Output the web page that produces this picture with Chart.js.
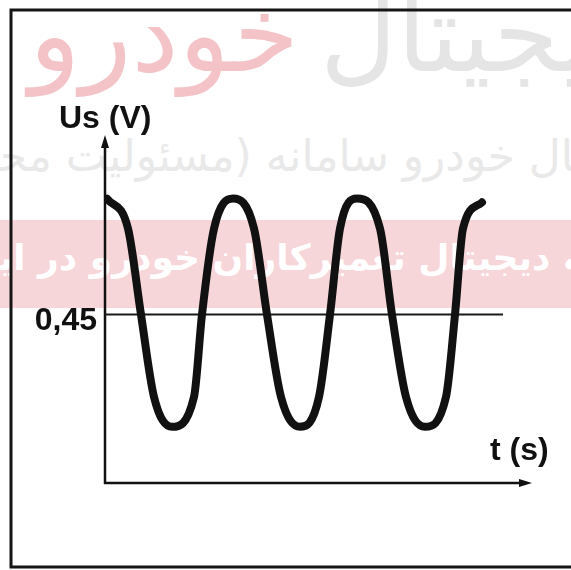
<!DOCTYPE html>
<html>
<head>
<meta charset="utf-8">
<script src="https://cdn.jsdelivr.net/npm/chart.js@4.4.1/dist/chart.umd.min.js"></script>
<style>
  html, body { margin: 0; padding: 0; background: #fff; }
  #wrap { position: relative; width: 571px; height: 570px; overflow: hidden; background: #fff; }
  .wm { position: absolute; white-space: nowrap; line-height: 1; font-family: "DejaVu Sans", sans-serif; direction: rtl; }
  #band { position: absolute; left: 0; top: 220px; width: 571px; height: 88px; background: #f7d6d9; }
  canvas { position: absolute; left: 0; top: 0; }
</style>
</head>
<body>
<div id="wrap">
  <!-- faint watermark behind the chart -->
  <div class="wm" style="top:-18px; right:272px; font-size:106px; color:#f3c3c7;">خودرو</div>
  <div class="wm" style="top:-18px; left:320px; font-size:106px; color:#e5e5e5;">دیجیتال</div>
  <div class="wm" style="top:134px; right:-90px; font-size:44px; color:#e9e9e9;">دیجیتال خودرو سامانه (مسئولیت محدود)</div>
  <div id="band"></div>
  <div class="wm" style="top:240px; right:-112px; font-size:36px; font-weight:bold; color:#fff;">سامانه دیجیتال تعمیرکاران خودرو در ایران</div>
  <canvas id="sensorChart" width="571" height="570"></canvas>
</div>
<script>
// signal (time in arbitrary units, voltage in V)
const timeS = [0.02, 0.23, 0.36, 0.49, 0.67,
  0.89, 0.97, 1.09, 1.28,
  1.49, 1.62, 1.76, 1.95,
  2.14, 2.25, 2.35, 2.52,
  2.75, 2.87, 3.01, 3.20,
  3.41, 3.50, 3.58, 3.77];
const usVolts = [0.76, 0.68, 0.45, 0.23, 0.15,
  0.23, 0.45, 0.68, 0.76,
  0.68, 0.45, 0.23, 0.15,
  0.23, 0.45, 0.68, 0.76,
  0.68, 0.45, 0.23, 0.15,
  0.23, 0.45, 0.68, 0.75];

// 0,45 V reference line
const refTime = [0, 3.98];
const refVolts = [0.45, 0.45];

const yTicks = [0.45];
const yTickLabels = ['0,45'];
const yTitle = 'Us (V)';
const xTitle = 't (s)';
const tMax = 4.27;
const usMax = 0.93;

const toPoints = (xs, ys) => xs.map((x, i) => ({ x: x, y: ys[i] }));

const sketchAxes = {
  id: 'sketchAxes',
  beforeDatasetsDraw(chart) {
    const ctx = chart.ctx;
    const xs = chart.scales.x, ys = chart.scales.y;
    const x0 = xs.getPixelForValue(0), y0 = ys.getPixelForValue(0);
    const xEnd = xs.getPixelForValue(tMax), yEnd = ys.getPixelForValue(usMax);

    ctx.save();
    // page frame
    ctx.strokeStyle = '#151515';
    ctx.lineWidth = 3;
    ctx.beginPath();
    ctx.moveTo(chart.width + 2, 10);
    ctx.lineTo(11, 10);
    ctx.lineTo(11, 567);
    ctx.lineTo(chart.width + 2, 567);
    ctx.stroke();

    // axes
    ctx.strokeStyle = '#111';
    ctx.lineWidth = 2.5;
    ctx.beginPath();
    ctx.moveTo(x0, y0 + 1);
    ctx.lineTo(x0, yEnd + 10);
    ctx.moveTo(x0 - 1, y0);
    ctx.lineTo(xEnd - 10, y0);
    ctx.stroke();

    // arrow heads
    ctx.fillStyle = '#111';
    ctx.beginPath();
    ctx.moveTo(x0, yEnd);
    ctx.lineTo(x0 - 4, yEnd + 13);
    ctx.lineTo(x0 + 4, yEnd + 13);
    ctx.closePath();
    ctx.moveTo(xEnd, y0);
    ctx.lineTo(xEnd - 13, y0 - 4);
    ctx.lineTo(xEnd - 13, y0 + 4);
    ctx.closePath();
    ctx.fill();

    // labels
    ctx.font = 'bold 32px "Liberation Sans", Arial, sans-serif';
    ctx.fillStyle = '#111';
    ctx.textBaseline = 'alphabetic';
    ctx.textAlign = 'right';
    yTicks.forEach((v, i) => {
      ctx.fillText(yTickLabels[i], x0 - 8, ys.getPixelForValue(v) + 15);
    });
    ctx.textAlign = 'left';
    ctx.fillText(yTitle, x0 - 46, yEnd - 7);
    ctx.fillText(xTitle, xEnd - 42, y0 - 23);
    ctx.restore();
  }
};

new Chart(document.getElementById('sensorChart'), {
  type: 'line',
  data: {
    datasets: [
      {
        label: 'Us',
        data: toPoints(timeS, usVolts),
        borderColor: '#111',
        borderWidth: 8,
        pointRadius: 0,
        cubicInterpolationMode: 'monotone',
        borderCapStyle: 'round',
        fill: false
      },
      {
        label: '0,45',
        data: toPoints(refTime, refVolts),
        borderColor: '#1a1a1a',
        borderWidth: 2,
        pointRadius: 0,
        fill: false
      }
    ]
  },
  options: {
    responsive: false,
    animation: false,
    layout: { padding: { left: 105, right: 39, top: 135, bottom: 87 } },
    plugins: { legend: { display: false }, tooltip: { enabled: false } },
    scales: {
      x: { type: 'linear', min: 0, max: tMax, display: false },
      y: { type: 'linear', min: 0, max: usMax, display: false }
    }
  },
  plugins: [sketchAxes]
});
</script>
</body>
</html>
